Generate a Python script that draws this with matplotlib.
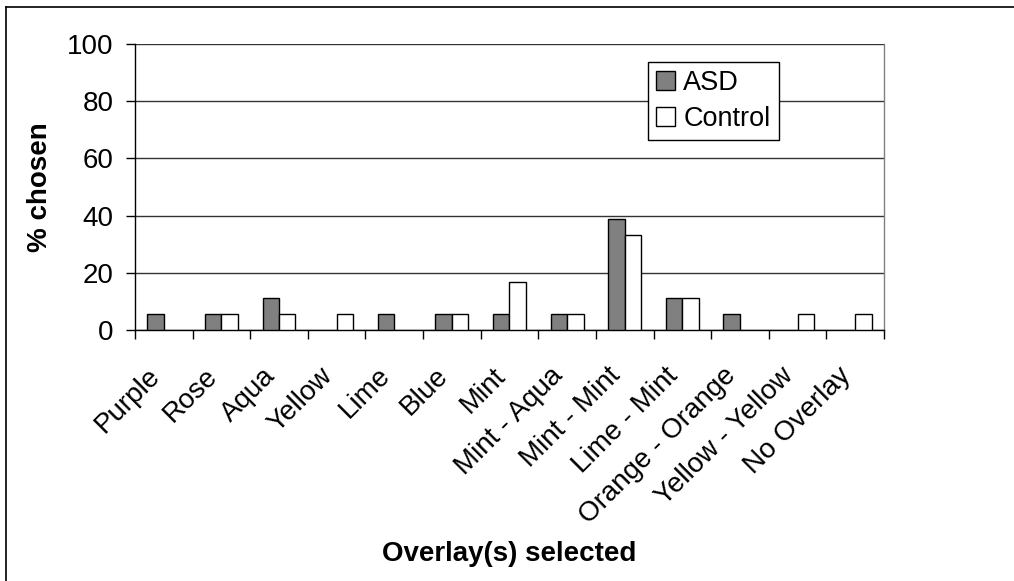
import numpy as np
import matplotlib.pyplot as plt
from matplotlib.lines import Line2D
from matplotlib.transforms import ScaledTranslation

plt.rcParams['font.family'] = ['Liberation Sans', 'DejaVu Sans']

categories = ['Purple', 'Rose', 'Aqua', 'Yellow', 'Lime', 'Blue', 'Mint',
              'Mint - Aqua', 'Mint - Mint', 'Lime - Mint', 'Orange - Orange',
              'Yellow - Yellow', 'No Overlay']
asd = [5.6, 5.6, 11.1, 0, 5.6, 5.6, 5.6, 5.6, 38.9, 11.1, 5.6, 0, 0]
control = [0, 5.6, 5.6, 5.6, 0, 5.6, 16.7, 5.6, 33.3, 11.1, 0, 5.6, 5.6]
yticks = [0, 20, 40, 60, 80, 100]

fs = 20
fig = plt.figure(figsize=(10.14, 5.81), dpi=100)
ax = fig.add_axes([0.1331, 0.432, 0.7387, 0.4922])

x = np.arange(len(categories))
w = 0.286
b1 = ax.bar(x - w / 2, asd, w, color='#808080', edgecolor='black', linewidth=1, label='ASD', zorder=3)
b2 = ax.bar(x + w / 2, control, w, color='white', edgecolor='black', linewidth=1, label='Control', zorder=3)

ax.set_xlim(-0.5, len(categories) - 0.5)
ax.set_ylim(0, 100)
ax.set_yticks(yticks)
ax.yaxis.grid(True, color='#333333', linewidth=1)
ax.set_axisbelow(True)

ax.set_xticks(np.arange(len(categories) + 1) - 0.5)
ax.set_xticklabels([])
ax.tick_params(axis='x', length=6.5, width=1, direction='out')
ax.tick_params(axis='y', length=6.5, width=1, direction='out', labelsize=fs, pad=9)

# rotated category labels
off = ScaledTranslation(-8 / 100, -42 / 100, fig.dpi_scale_trans)
for xi, lab in zip(x, categories):
    ax.text(xi, 0, lab, transform=ax.get_xaxis_transform() + off, rotation=45,
            ha='right', va='center', rotation_mode='anchor', fontsize=fs)

for s in ['left', 'bottom']:
    ax.spines[s].set_color('black')
    ax.spines[s].set_linewidth(1)
ax.spines['top'].set_visible(False)
ax.spines['right'].set_color('#808080')
ax.spines['right'].set_linewidth(1)

ax.set_xlabel('Overlay(s) selected', fontsize=fs, fontweight='bold')
ax.xaxis.set_label_coords(0.5, -0.738)
ax.set_ylabel('% chosen', fontsize=fs, fontweight='bold')
ax.yaxis.set_label_coords(-0.109, 0.5)

leg = ax.legend(loc='upper left', bbox_to_anchor=(0.685, 0.937), fontsize=19.5,
                frameon=True, fancybox=False, shadow=False, framealpha=1,
                handlelength=0.7, handleheight=0.7, handletextpad=0.3,
                borderpad=0.3, labelspacing=0.35, borderaxespad=0)
leg.get_frame().set_edgecolor('black')
leg.get_frame().set_linewidth(1)

# zero-valued bars have no outline (after legend so handles keep theirs)
for bars in (b1, b2):
    for p in bars.patches:
        if p.get_height() == 0:
            p.set_edgecolor('none')

# outer chart border (left and top edges visible)
fig.add_artist(Line2D([6 / 1014, 6 / 1014], [0, 1 - 7 / 581], color='black', linewidth=1.2, transform=fig.transFigure))
fig.add_artist(Line2D([6 / 1014, 1], [1 - 7 / 581, 1 - 7 / 581], color='black', linewidth=1.2, transform=fig.transFigure))

fig.savefig('out.png', dpi=100)
